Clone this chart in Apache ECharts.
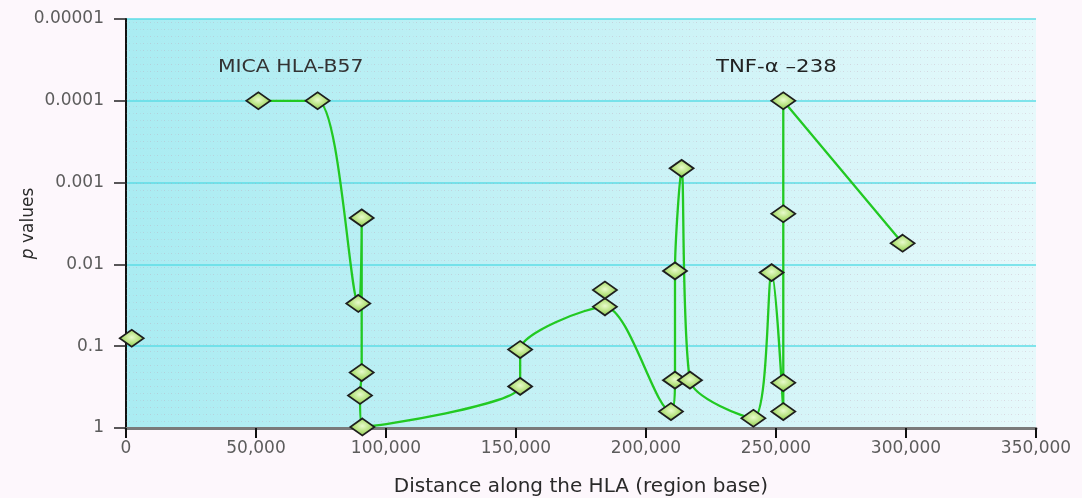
<!DOCTYPE html>
<html>
<head>
<meta charset="utf-8">
<script src="https://cdn.jsdelivr.net/npm/echarts@6/dist/echarts.min.js"></script>
<style>
html,body{margin:0;padding:0;background:#fdf7fc;}
#chart{width:1082px;height:498px;}
</style>
</head>
<body>
<div id="chart"></div>
<script>
// Distance along the HLA (bp) and p values, in the order the line joins them
var distances = [50900, 73700, 89350, 90650, 90650, 90000, 90900, 151600, 151600, 184200, 209600, 211150, 211150, 213700, 216900, 241300, 248300, 252800, 252800, 252800, 252800, 298700];
var pValues   = [0.0001, 0.0001, 0.030, 0.0027, 0.21, 0.40, 0.97, 0.31, 0.11, 0.033, 0.63, 0.26, 0.012, 0.00067, 0.26, 0.76, 0.0126, 0.63, 0.28, 0.0024, 0.0001, 0.0055];
// markers not joined by the line
var isoDistances = [2200, 184200];
var isoPValues = [0.080, 0.0206];
// tick labels
var xTickLabels = ['0', '50,000', '100,000', '150,000', '200,000', '250,000', '300,000', '350,000'];
var yTickLabels = ['1', '0.1', '0.01', '0.001', '0.0001', '0.00001'];
var annotations = ['MICA HLA-B57', 'TNF-\u03b1 \u2013238'];

var mainData = distances.map(function (d, i) { return [d, pValues[i]]; });
var isoData = isoDistances.map(function (d, i) { return [d, isoPValues[i]]; });

// dotted texture for the plot area
var tex = document.createElement('canvas');
tex.width = 7; tex.height = 7;
var tctx = tex.getContext('2d');
tctx.fillStyle = 'rgba(190,150,170,0.32)';
tctx.fillRect(3, 3, 1, 1);
tctx.fillStyle = 'rgba(190,150,170,0.16)';
tctx.fillRect(0, 3, 1, 1);

var chart = echarts.init(document.getElementById('chart'), null, {renderer: 'canvas'});
var markerStyle = {
  color: new echarts.graphic.RadialGradient(0.5, 0.45, 0.6, [
    {offset: 0, color: '#e8fbcc'},
    {offset: 0.5, color: '#b6e27e'},
    {offset: 1, color: '#74b63e'}
  ]),
  borderColor: '#1e1e1e',
  borderWidth: 1.8,
  opacity: 1
};
var font = '"DejaVu Sans", Verdana, sans-serif';
chart.setOption({
  backgroundColor: '#fdf7fc',
  animation: false,
  grid: {
    left: 126, right: 46, top: 19, bottom: 70,
    containLabel: false,
    outerBoundsMode: 'none',
    show: true,
    borderWidth: 0,
    backgroundColor: new echarts.graphic.LinearGradient(0, 0, 1, 0, [
      {offset: 0, color: '#aaecf2'},
      {offset: 0.55, color: '#c9f2f6'},
      {offset: 1, color: '#e6f9fb'}
    ])
  },
  xAxis: {
    type: 'value',
    min: 0, max: 350000, interval: 50000,
    name: 'Distance along the HLA (region base)',
    nameLocation: 'middle',
    nameGap: 49,
    nameMoveOverlap: false,
    nameTextStyle: {color: '#2a2a2a', fontSize: 20, fontFamily: font},
    axisLine: {show: true, onZero: false, lineStyle: {color: '#7a7a7a', width: 3}},
    axisTick: {show: true, length: 10, lineStyle: {color: '#111', width: 2}},
    axisLabel: {
      color: '#5c5c5c', fontSize: 17, fontFamily: font, margin: 12,
      formatter: function (v) { return xTickLabels[Math.round(v / 50000)]; }
    },
    splitLine: {show: false}
  },
  yAxis: {
    type: 'log',
    logBase: 10,
    inverse: true,
    min: 0.00001, max: 1,
    name: '{i|p} values',
    nameLocation: 'middle',
    nameGap: 89,
    nameMoveOverlap: false,
    nameTextStyle: {
      color: '#2a2a2a', fontSize: 17, fontFamily: font,
      rich: {i: {fontStyle: 'italic', fontSize: 17, fontFamily: font, color: '#2a2a2a'}}
    },
    axisLine: {show: true, lineStyle: {color: '#111', width: 2}},
    axisTick: {show: true, length: 12, lineStyle: {color: '#222', width: 1.5}},
    axisLabel: {
      color: '#5c5c5c', fontSize: 17, fontFamily: font, margin: 22,
      formatter: function (v) { return yTickLabels[Math.round(-Math.log10(v))]; }
    },
    splitLine: {show: true, lineStyle: {color: '#5cdce6', width: 1.5}}
  },
  graphic: [
    {type: 'rect', left: 126, top: 19, z: 1, silent: true,
     shape: {width: 910, height: 409},
     style: {fill: {image: tex, repeat: 'repeat'}}},
    {type: 'text', left: 218, top: 59, z: 5, scaleX: 1.2,
     style: {text: annotations[0], fill: '#333', font: '17px ' + font}},
    {type: 'text', left: 716, top: 58, z: 5, scaleX: 1.18,
     style: {text: annotations[1], fill: '#222', font: '18px ' + font}}
  ],
  series: [
    {
      type: 'line',
      data: mainData,
      smooth: 0.28,
      clip: false,
      symbol: 'diamond',
      symbolSize: [24, 17],
      showAllSymbol: true,
      lineStyle: {color: '#22c922', width: 2.3},
      itemStyle: markerStyle,
      z: 3
    },
    {
      type: 'scatter',
      data: isoData,
      clip: false,
      symbol: 'diamond',
      symbolSize: [24, 17],
      itemStyle: markerStyle,
      z: 4
    }
  ]
});
</script>
</body>
</html>
